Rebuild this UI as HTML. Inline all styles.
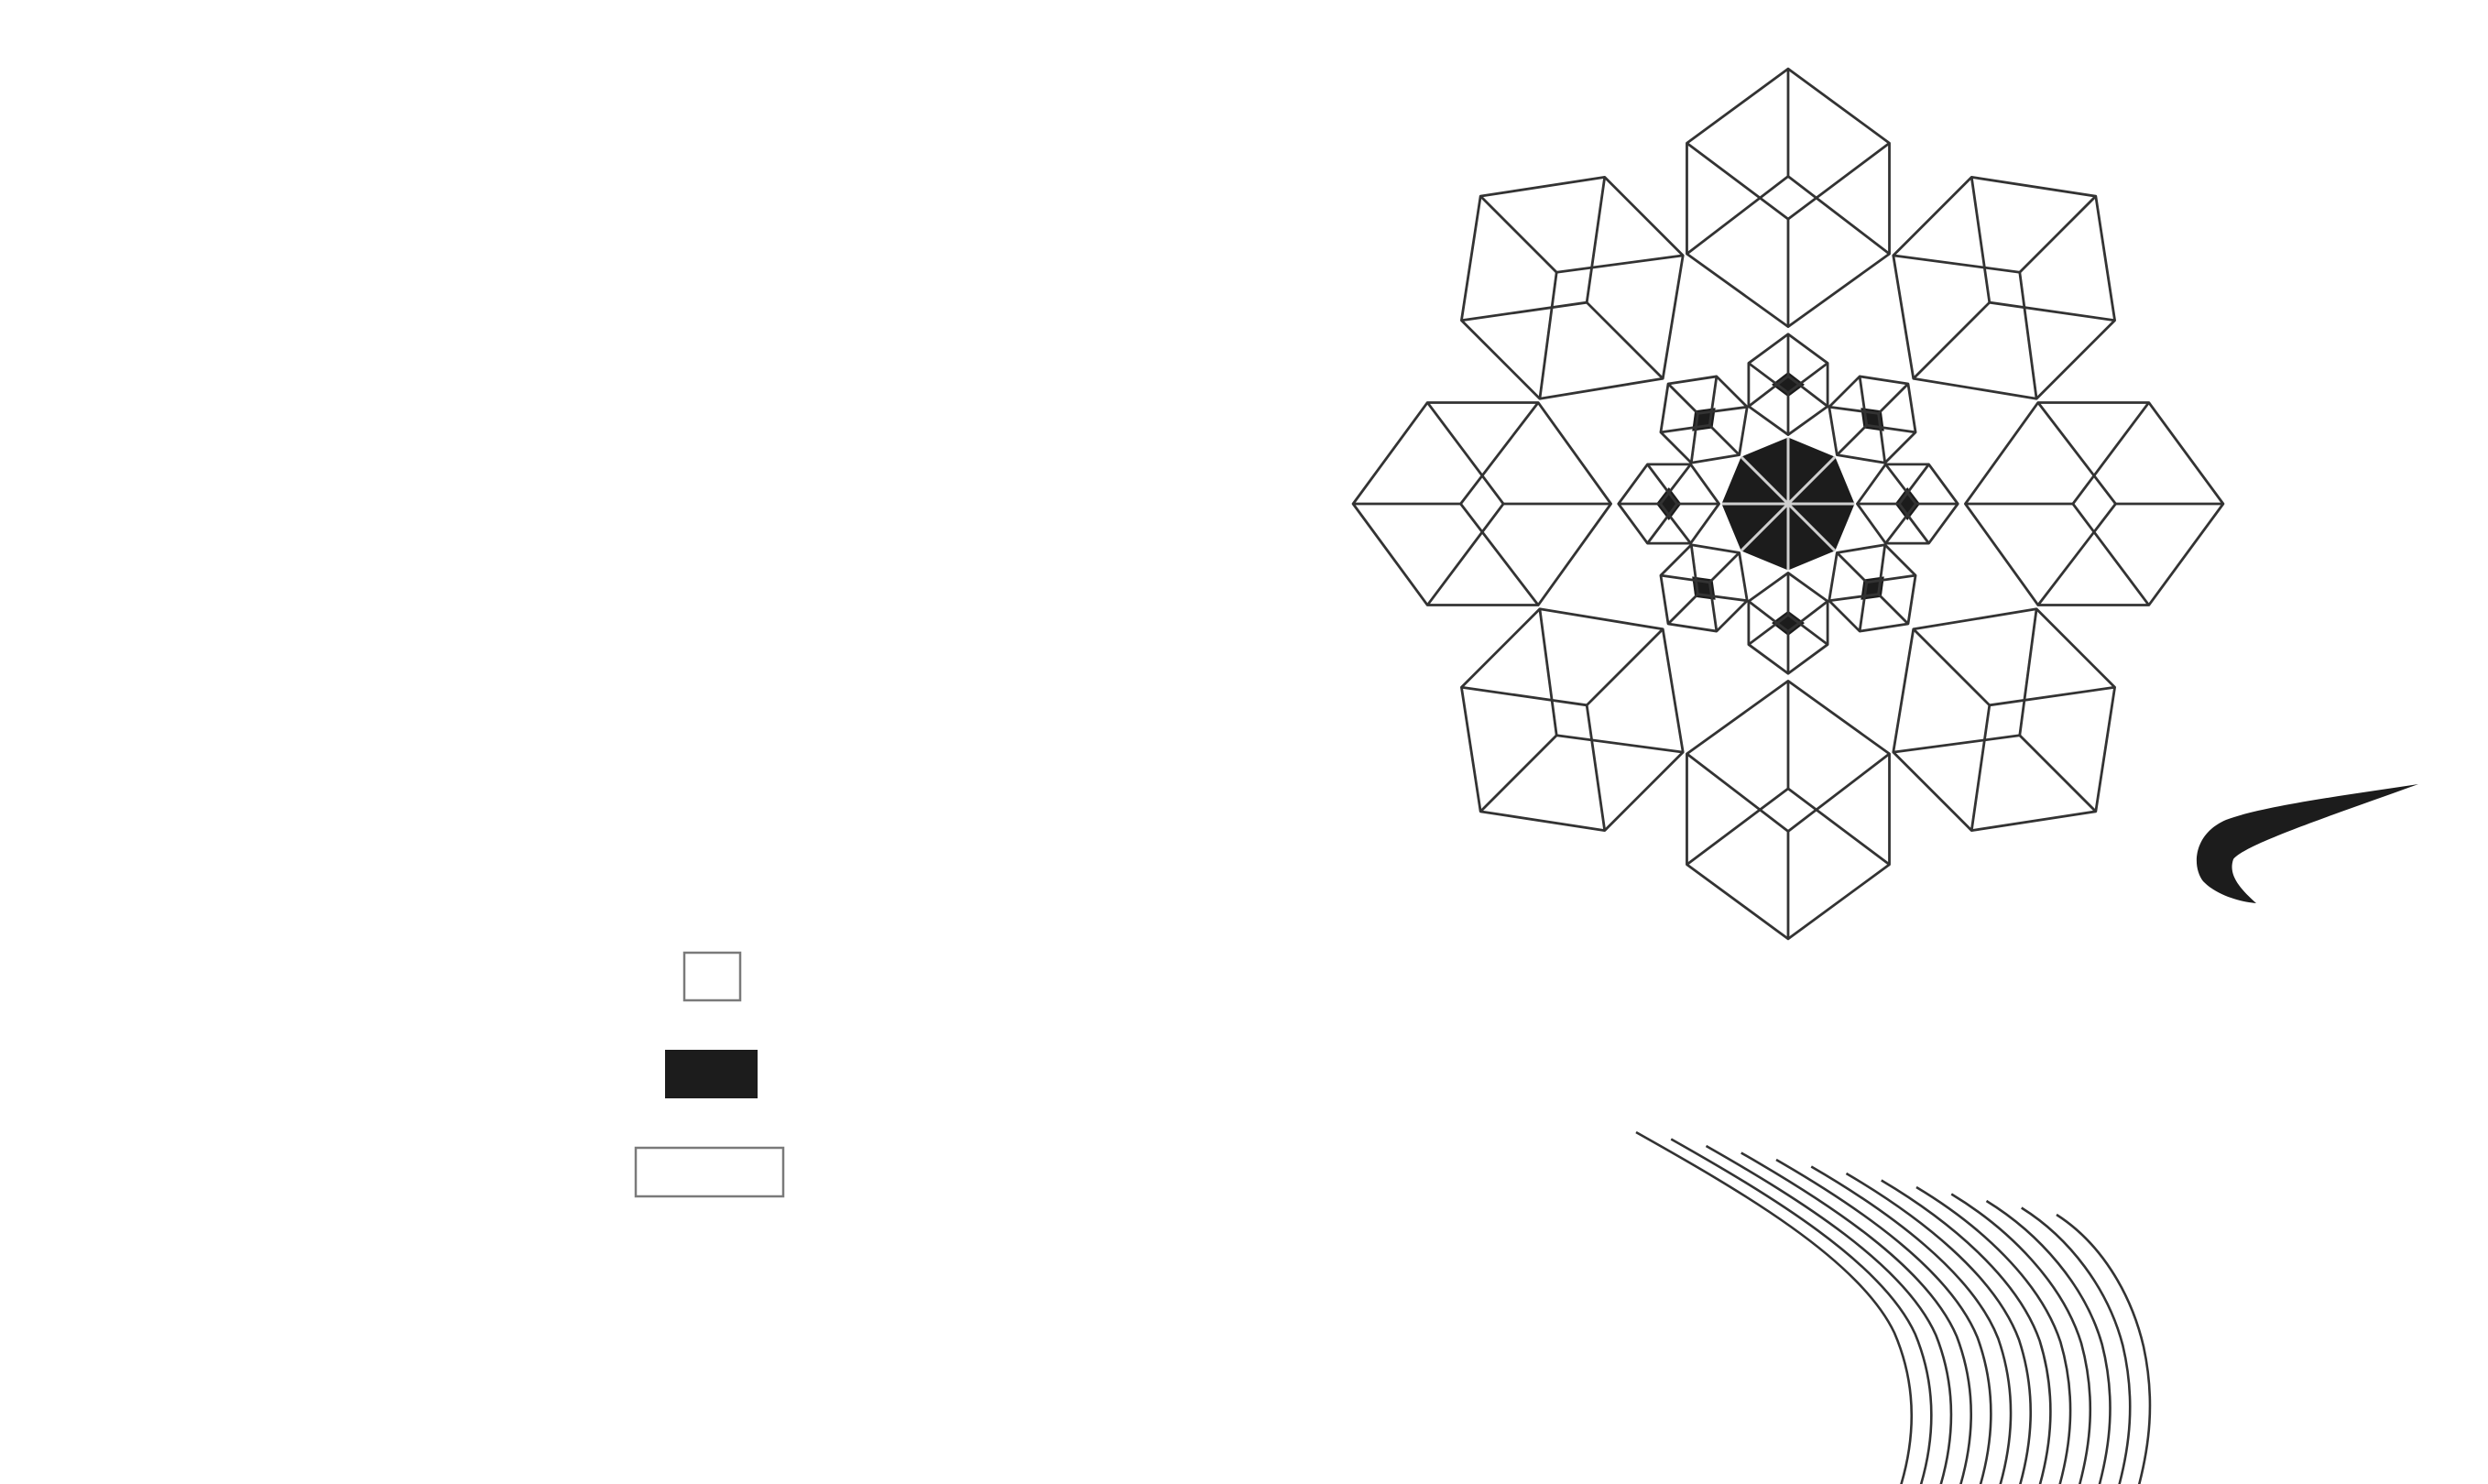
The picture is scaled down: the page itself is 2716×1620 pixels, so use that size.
<!DOCTYPE html>
<html><head><meta charset="utf-8"><style>
html,body{margin:0;padding:0;background:#fff;}
svg{display:block;}
</style></head><body>
<svg id="scene" width="2716" height="1620" viewBox="0 0 2716 1620" xmlns="http://www.w3.org/2000/svg">
  <rect x="0" y="0" width="2716" height="1620" fill="#ffffff"/>
  <g id="flake" transform="translate(1952,550) scale(1.727)"></g>
  <path fill="#1c1c1c" d="M2640,856 C2560,868 2470,880 2430,895 C2395,910 2392,945 2405,962 C2420,978 2448,985 2463,986 C2445,970 2432,955 2438,938 C2450,922 2540,892 2640,856 Z"/>
  <rect x="747" y="1040" width="61" height="52" fill="none" stroke="#7a7a7a" stroke-width="2.5"/>
  <rect x="726" y="1146" width="101" height="53" fill="#1c1c1c"/>
  <rect x="694" y="1253" width="161" height="53" fill="none" stroke="#7a7a7a" stroke-width="2.5"/>
  <g id="curves" fill="none" stroke="#333" stroke-width="2.6"></g>
</svg>
<script>
const NS='http://www.w3.org/2000/svg';
const flake=document.getElementById('flake');
function mk(tag,attrs,parent){const e=document.createElementNS(NS,tag);for(const k in attrs)e.setAttribute(k,attrs[k]);parent.appendChild(e);return e;}
function pt(k,r,v){const t=k*Math.PI/4;const dx=Math.sin(t),dy=-Math.cos(t),px=Math.cos(t),py=Math.sin(t);return [r*dx+v*px,r*dy+v*py];}
function inter(a,b,c,d){const x1=a[0],y1=a[1],x2=b[0],y2=b[1],x3=c[0],y3=c[1],x4=d[0],y4=d[1];const den=(x1-x2)*(y3-y4)-(y1-y2)*(x3-x4);const t=((x1-x3)*(y3-y4)-(y1-y3)*(x3-x4))/den;return [x1+t*(x2-x1),y1+t*(y2-y1)];}
const st={stroke:'#333','stroke-width':2.8,'vector-effect':'non-scaling-stroke',fill:'none','stroke-linejoin':'round'};
function arm(k,s,fillCore,name){
  const g=mk('g',{},flake);
  
  
  const P=(r,v)=>pt(k,r*s,v*s);
  const tip=P(275,0),ul=P(228,-64),ur=P(228,64),lr=P(158,64),ll=P(158,-64),inn=P(112,0);
  const y1=P(207,0),y2=P(180,0);
  const a=inter(y1,lr,y2,ur),b=inter(y1,ll,y2,ul);
  if(fillCore){const c=P(193.5,0);const sc=1.5;const q=[y1,a,y2,b].map(p=>[c[0]+(p[0]-c[0])*sc,c[1]+(p[1]-c[1])*sc]);
    mk('polygon',{points:q.map(p=>p.join(',')).join(' '),fill:'#1c1c1c'},g);}
  mk('polygon',Object.assign({points:[tip,ur,lr,inn,ll,ul].map(p=>p.join(',')).join(' ')},st),g);
  const lines=[[y1,tip],[y1,lr],[y1,ll],[y2,inn],[y2,ur],[y2,ul]];
  lines.forEach(l=>mk('line',Object.assign({x1:l[0][0],y1:l[0][1],x2:l[1][0],y2:l[1][1]},st),g));
}
for(let k=0;k<8;k++)arm(k,1,false,'outer-cube-'+k);
for(let k=0;k<8;k++)arm(k,0.39,true,'inner-cube-'+k);
const oct=[];for(let k=0;k<8;k++)oct.push(pt(k,42,0).join(','));
const core=mk('polygon',{points:oct.join(' '),fill:'#1c1c1c'},flake);


for(let k=0;k<4;k++){const a=pt(k,42,0),b=pt(k+4,42,0);
  const sp=mk('line',{x1:a[0],y1:a[1],x2:b[0],y2:b[1],stroke:'#cfcfcf','stroke-width':3,'vector-effect':'non-scaling-stroke'},flake);
  
  
}
// curved line bundle: two-segment cubic, interpolated between first and last curve control points
const firstCurve=[[1786,1236],[1900,1300],[2030,1375],[2068,1455],[2096,1520],[2088,1580],[2074,1625]];
const lastCurve=[[2245,1326],[2292,1356],[2326,1410],[2340,1470],[2353,1530],[2346,1580],[2334,1625]];
const cg=document.getElementById('curves');
const N=13;
for(let i=0;i<N;i++){const t=i/(N-1);const p=firstCurve.map((q,j)=>[q[0]+(lastCurve[j][0]-q[0])*t,q[1]+(lastCurve[j][1]-q[1])*t]);
  const d='M'+p[0]+' C'+p[1]+' '+p[2]+' '+p[3]+' C'+p[4]+' '+p[5]+' '+p[6];
  const c=mk('path',{d:d},cg);
  
  
}
</script>
</body></html>
